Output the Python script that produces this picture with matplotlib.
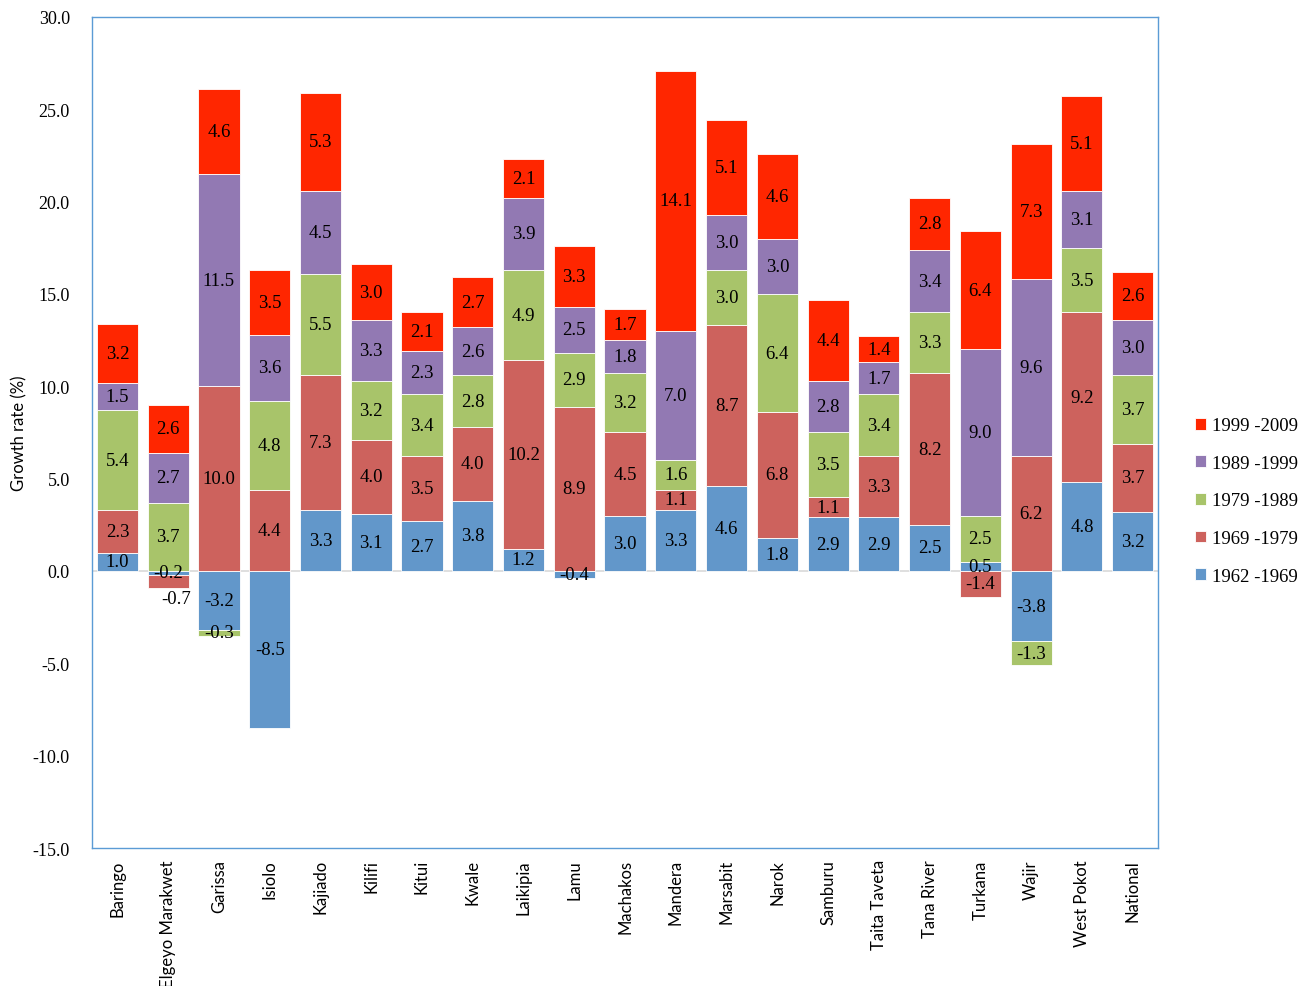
import numpy as np
import matplotlib
matplotlib.use('Agg')
import matplotlib.pyplot as plt

# counties (x axis)
counties = ['Baringo', 'Elgeyo Marakwet', 'Garissa', 'Isiolo', 'Kajiado', 'Kilifi',
            'Kitui', 'Kwale', 'Laikipia', 'Lamu', 'Machakos', 'Mandera', 'Marsabit',
            'Narok', 'Samburu', 'Taita Taveta', 'Tana River', 'Turkana', 'Wajir',
            'West Pokot', 'National']

# growth rate (%) per intercensal period
g_1962_1969 = [1.0, -0.2, -3.2, -8.5, 3.3, 3.1, 2.7, 3.8, 1.2, -0.4, 3.0, 3.3, 4.6,
               1.8, 2.9, 2.9, 2.5, 0.5, -3.8, 4.8, 3.2]
g_1969_1979 = [2.3, -0.7, 10.0, 4.4, 7.3, 4.0, 3.5, 4.0, 10.2, 8.9, 4.5, 1.1, 8.7,
               6.8, 1.1, 3.3, 8.2, -1.4, 6.2, 9.2, 3.7]
g_1979_1989 = [5.4, 3.7, -0.3, 4.8, 5.5, 3.2, 3.4, 2.8, 4.9, 2.9, 3.2, 1.6, 3.0,
               6.4, 3.5, 3.4, 3.3, 2.5, -1.3, 3.5, 3.7]
g_1989_1999 = [1.5, 2.7, 11.5, 3.6, 4.5, 3.3, 2.3, 2.6, 3.9, 2.5, 1.8, 7.0, 3.0,
               3.0, 2.8, 1.7, 3.4, 9.0, 9.6, 3.1, 3.0]
g_1999_2009 = [3.2, 2.6, 4.6, 3.5, 5.3, 3.0, 2.1, 2.7, 2.1, 3.3, 1.7, 14.1, 5.1,
               4.6, 4.4, 1.4, 2.8, 6.4, 7.3, 5.1, 2.6]

periods = ['1962 -1969', '1969 -1979', '1979 -1989', '1989 -1999', '1999 -2009']
series = [g_1962_1969, g_1969_1979, g_1979_1989, g_1989_1999, g_1999_2009]
colors = ['#6297CA', '#CD625D', '#A8C46A', '#9279B3', '#FF2600']

serif = 'Liberation Serif'
sans = 'Lato'

fig = plt.figure(figsize=(13, 9.87), dpi=100)
ax = fig.add_axes([0.0708, 0.1398, 0.82, 0.8420])

x = np.arange(len(counties))
pos_base = np.zeros(len(counties))
neg_base = np.zeros(len(counties))
handles = []
for vals, name, col in zip(series, periods, colors):
    vals = np.array(vals)
    bottom = np.where(vals >= 0, pos_base, neg_base)
    bars = ax.bar(x, vals, 0.81, bottom=bottom, color=col, edgecolor='white',
                  linewidth=0.6, label=name, zorder=2)
    handles.append(bars)
    for i, (b, v) in enumerate(zip(bottom, vals)):
        yc = b + v / 2
        if counties[i] == 'Elgeyo Marakwet' and name == '1969 -1979':
            # excel pushed this one below the bar
            ax.annotate(f'{v:.1f}', (x[i], b + v), xytext=(6, -8),
                        textcoords='offset points', ha='center', va='center',
                        fontsize=13.5, family=serif)
        else:
            ax.text(x[i], yc, f'{v:.1f}', ha='center', va='center',
                    fontsize=13.5, family=serif, zorder=3)
    pos_base = pos_base + np.where(vals >= 0, vals, 0)
    neg_base = neg_base + np.where(vals < 0, vals, 0)

ax.axhline(0, color='#D9D9D9', linewidth=1.2, zorder=1)

ax.set_xlim(-0.5, len(counties) - 0.5)
ax.set_ylim(-15, 30)
ax.set_yticks(np.arange(-15, 31, 5))
ax.set_yticklabels([f'{t:.1f}' for t in np.arange(-15, 31, 5)], family=serif, fontsize=13)
ax.set_xticks(x)
ax.set_xticklabels(counties, rotation=90, family=sans, fontsize=12)
ax.tick_params(axis='y', length=0, pad=16)
ax.tick_params(axis='x', length=0, pad=8)
ax.set_ylabel('Growth rate (%)', family=sans, fontsize=12, labelpad=4)

for s in ax.spines.values():
    s.set_color('#5B9BD5')
    s.set_linewidth(1.0)

leg = fig.legend(handles[::-1], periods[::-1], loc='center left',
                 bbox_to_anchor=(0.919, 0.4914), frameon=False, borderpad=0,
                 borderaxespad=0,
                 prop={'family': serif, 'size': 13.5}, handlelength=0.6,
                 handleheight=0.6, handletextpad=0.3, labelspacing=1.1)

fig.savefig('out.png', dpi=100)
